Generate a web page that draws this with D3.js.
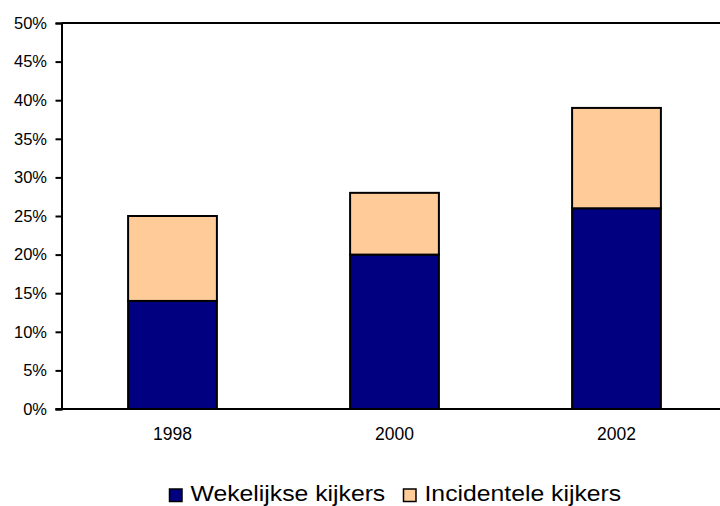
<!DOCTYPE html>
<html>
<head>
<meta charset="utf-8">
<script src="https://cdn.jsdelivr.net/npm/d3@7"></script>
<style>
  body { margin: 0; background: #fff; }
  svg { display: block; font-family: "Liberation Sans", Arial, sans-serif; }
</style>
</head>
<body>
<svg width="720" height="506"></svg>
<script>
// Chart data
var years = ["1998", "2000", "2002"];
var wekelijks = [14, 20, 26];
var incidenteel = [11, 8, 13];
var seriesNames = ["Wekelijkse kijkers", "Incidentele kijkers"];
var seriesColors = ["#000080", "#FFCC99"];
var yTicks = [0, 5, 10, 15, 20, 25, 30, 35, 40, 45, 50];

var svg = d3.select("svg"),
    plotLeft = 61.5, plotTop = 23, plotBottom = 409,
    plotRight = plotLeft + 666;

var x = d3.scaleBand().domain(years).range([plotLeft, plotRight]).paddingInner(0.6).paddingOuter(0.3);
var y = d3.scaleLinear().domain([0, 50]).range([plotBottom, plotTop]);

// stack the two series
var rows = years.map(function(yr, i) {
  return { year: yr, w: wekelijks[i], inc: incidenteel[i] };
});
var stack = d3.stack().keys(["w", "inc"])(rows);

// plot area top border
svg.append("line")
    .attr("x1", plotLeft).attr("x2", 720)
    .attr("y1", plotTop).attr("y2", plotTop)
    .attr("stroke", "#000").attr("stroke-width", 2);

svg.append("g").selectAll("g")
  .data(stack)
  .enter().append("g")
    .attr("fill", function(d, i) { return seriesColors[i]; })
  .selectAll("rect")
  .data(function(d) { return d; })
  .enter().append("rect")
    .attr("x", function(d) { return x(d.data.year); })
    .attr("width", x.bandwidth())
    .attr("y", function(d) { return y(d[1]); })
    .attr("height", function(d) { return y(d[0]) - y(d[1]); })
    .attr("stroke", "#000")
    .attr("stroke-width", 2);

// y axis
var yAxis = svg.append("g")
    .attr("transform", "translate(" + plotLeft + ",0)")
    .call(d3.axisLeft(y).tickValues(yTicks).tickSize(6).tickPadding(8.5)
      .tickFormat(function(d) { return d + "%"; }));
yAxis.select(".domain").attr("stroke-width", 2);
yAxis.selectAll(".tick line").attr("stroke-width", 2);
yAxis.selectAll("text").attr("font-size", 16.5).attr("fill", "#000")
    .attr("font-family", "Liberation Sans, Arial, sans-serif");

// x axis line
svg.append("line")
    .attr("x1", plotLeft - 6).attr("x2", 720)
    .attr("y1", plotBottom).attr("y2", plotBottom)
    .attr("stroke", "#000").attr("stroke-width", 2);

svg.append("g").selectAll("text")
  .data(years)
  .enter().append("text")
    .attr("x", function(d) { return x(d) + x.bandwidth() / 2; })
    .attr("y", 439.5)
    .attr("text-anchor", "middle")
    .attr("font-size", 17.5)
    .text(function(d) { return d; });

// legend
var legendX = [169.5, 403.5];
var legend = svg.append("g").selectAll("g")
  .data(seriesNames)
  .enter().append("g")
    .attr("transform", function(d, i) { return "translate(" + legendX[i] + ",489)"; });
legend.append("rect")
    .attr("width", 12.5).attr("height", 12.5)
    .attr("fill", function(d, i) { return seriesColors[i]; })
    .attr("stroke", "#000").attr("stroke-width", 1.5);
legend.append("text")
    .attr("transform", "translate(21,11.5) scale(1.1,1)")
    .attr("font-size", 22.5)
    .text(function(d) { return d; });
</script>
</body>
</html>
